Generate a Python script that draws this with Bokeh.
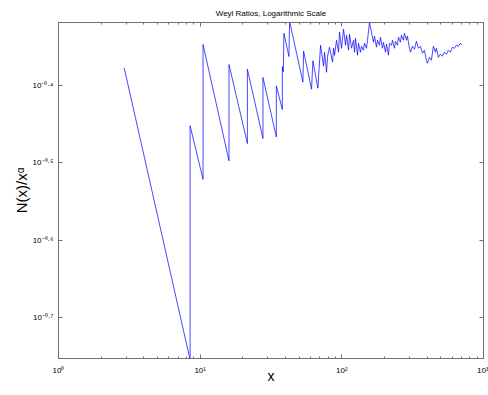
import math
from bokeh.plotting import figure
from bokeh.models import FixedTicker, LogAxis, Range1d
from bokeh.embed import file_html
from bokeh.resources import INLINE

# ---------------- data ----------------
title_text = "Weyl Ratios, Logarithmic Scale"
x_label = "x"
y_label = "N(x)/x\u1d45"

x_ticks = [1, 10, 100, 1000]
x_tick_labels = ["10\u2070", "10\u00b9", "10\u00b2", "10\u00b3"]
x_minor = [2, 3, 4, 5, 6, 7, 8, 9,
           20, 30, 40, 50, 60, 70, 80, 90,
           200, 300, 400, 500, 600, 700, 800, 900]

y_ticks = [10 ** -0.7, 10 ** -0.6, 10 ** -0.5, 10 ** -0.4]
y_tick_labels = ["10\u207b\u2070\u00b7\u2077", "10\u207b\u2070\u00b7\u2076",
                 "10\u207b\u2070\u00b7\u2075", "10\u207b\u2070\u00b7\u2074"]

x_lim = [1, 1000]
y_lim = [10 ** -0.7524, 10 ** -0.3191]

# sawtooth part (vertices; vertical jumps repeat x)
saw_x = [2.909, 8.488, 8.488, 10.48, 10.48, 15.98, 15.98, 21.54, 21.54,
         27.75, 27.75, 34.49, 34.49, 38.02, 38.02, 38.64, 39.02, 42.32,
         42.80, 53.11, 53.72, 61.16, 62.46, 67.74]
saw_y = [0.4191, 0.1762, 0.3530, 0.3010, 0.4492, 0.3180, 0.4233, 0.3348, 0.4175,
         0.3399, 0.4073, 0.3415, 0.3975, 0.3704, 0.4208, 0.4144, 0.4646, 0.4335,
         0.4814, 0.4017, 0.4404, 0.3934, 0.4282, 0.3946]

# dense oscillating part
dense_x = [70.78, 74.31, 75.53, 78.02, 79.30, 81.91, 86.00, 87.40, 88.83, 91.76,
           94.79, 96.34, 99.52, 102.80, 106.20, 107.94, 111.50, 113.32, 117.05, 120.92,
           122.89, 124.90, 129.03, 131.14, 135.47, 137.69, 142.23, 144.56, 149.33, 151.77,
           156.78, 161.95, 167.29, 170.03, 175.64, 178.51, 184.40, 187.42, 193.60, 196.77,
           203.26, 206.59, 213.40, 216.90, 224.05, 227.71, 235.22, 239.07, 246.96, 251.00,
           259.28, 263.52, 272.22, 276.67, 285.80, 290.47, 300.06, 304.97, 315.03, 325.42,
           336.16, 347.25, 358.71, 370.54, 382.77, 395.40, 401.87, 415.12, 428.82, 442.97,
           457.58, 465.07, 480.41, 496.27, 512.64, 529.56, 547.03, 565.07, 583.71, 602.97,
           622.86, 643.41, 664.64, 686.57, 709.22]
dense_y = [0.4483, 0.4212, 0.4391, 0.4138, 0.4339, 0.4457, 0.4263, 0.4443, 0.4352, 0.4550,
           0.4391, 0.4660, 0.4443, 0.4701, 0.4483, 0.4618, 0.4417, 0.4632, 0.4443, 0.4550,
           0.4391, 0.4577, 0.4352, 0.4510, 0.4391, 0.4470, 0.4417, 0.4510, 0.4443, 0.4550,
           0.4800, 0.4660, 0.4523, 0.4605, 0.4457, 0.4550, 0.4483, 0.4591, 0.4443, 0.4523,
           0.4391, 0.4496, 0.4352, 0.4510, 0.4483, 0.4550, 0.4443, 0.4537, 0.4483, 0.4591,
           0.4523, 0.4618, 0.4550, 0.4646, 0.4550, 0.4605, 0.4443, 0.4391, 0.4470, 0.4430,
           0.4537, 0.4443, 0.4470, 0.4378, 0.4417, 0.4288, 0.4250, 0.4326, 0.4288, 0.4470,
           0.4391, 0.4443, 0.4326, 0.4365, 0.4339, 0.4391, 0.4365, 0.4417, 0.4391, 0.4457,
           0.4443, 0.4483, 0.4470, 0.4510, 0.4483]

# ---------------- figure ----------------
FONT = "Liberation Sans"
AXIS_COLOR = "#707070"

p = figure(width=488, height=395, x_axis_type="log", y_axis_type="log",
           x_range=Range1d(x_lim[0], x_lim[1]), y_range=Range1d(y_lim[0], y_lim[1]),
           title=title_text,
           output_backend="svg", toolbar_location=None,
           min_border_left=58, min_border_right=5, min_border_top=22, min_border_bottom=37)
p.background_fill_color = "white"
p.border_fill_color = "white"
p.outline_line_color = AXIS_COLOR
p.xgrid.visible = False
p.ygrid.visible = False

p.title.text_font = FONT
p.title.text_font_size = "8px"
p.title.text_font_style = "normal"
p.title.text_color = "black"
p.title.align = "center"
p.title.standoff = 10


def style_axis(ax, minor=True):
    ax.axis_line_color = AXIS_COLOR
    ax.major_tick_line_color = AXIS_COLOR
    ax.minor_tick_line_color = AXIS_COLOR
    ax.major_tick_in = 4
    ax.major_tick_out = 0
    ax.minor_tick_in = 2 if minor else 0
    ax.minor_tick_out = 0


def hide_labels(ax):
    ax.major_label_text_font_size = "1px"
    ax.major_label_text_alpha = 0
    ax.major_label_standoff = 0


def text_labels(ax, ticks, labels, standoff):
    ax.major_label_overrides = dict(zip(ticks, labels))
    ax.major_label_text_font = FONT
    ax.major_label_text_font_size = "8px"
    ax.major_label_text_color = "black"
    ax.major_label_standoff = standoff
    ax.axis_label_text_font = FONT
    ax.axis_label_text_font_style = "normal"
    ax.axis_label_text_color = "black"


xa = p.xaxis[0]
xa.ticker = FixedTicker(ticks=x_ticks, minor_ticks=x_minor)
style_axis(xa)
text_labels(xa, x_ticks, x_tick_labels, 7)
xa.axis_label = x_label
xa.axis_label_text_font_size = "14px"
xa.axis_label_standoff = -10

ya = p.yaxis[0]
ya.ticker = FixedTicker(ticks=y_ticks, minor_ticks=[])
style_axis(ya, minor=False)
text_labels(ya, y_ticks, y_tick_labels, 5)
ya.axis_label = y_label
ya.axis_label_text_font_size = "15px"
ya.axis_label_standoff = 0

top = LogAxis(ticker=FixedTicker(ticks=x_ticks, minor_ticks=x_minor))
style_axis(top)
hide_labels(top)
p.add_layout(top, "above")
right = LogAxis(ticker=FixedTicker(ticks=y_ticks, minor_ticks=[]))
style_axis(right, minor=False)
hide_labels(right)
p.add_layout(right, "right")

p.line(saw_x + dense_x, saw_y + dense_y, line_color="#0000ff", line_width=0.9, line_alpha=0.8)

open("out.html", "w").write(file_html(p, INLINE))
